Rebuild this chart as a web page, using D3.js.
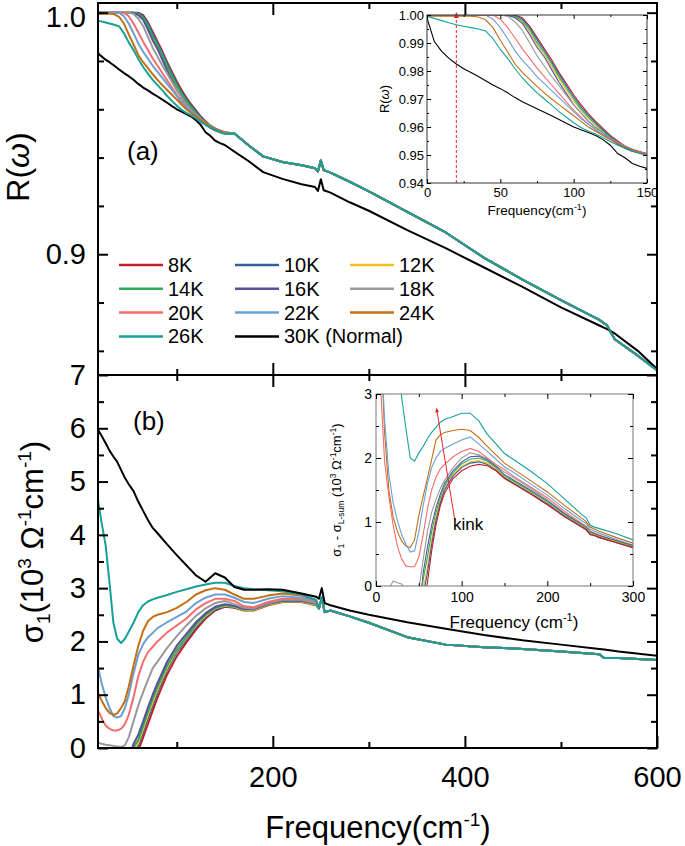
<!DOCTYPE html>
<html><head><meta charset="utf-8">
<script src="https://cdn.jsdelivr.net/npm/d3@7"></script>
<style>body{margin:0;background:#fff}svg{display:block;font-family:"Liberation Sans",Arial,sans-serif}</style>
</head><body><svg id="chart" width="685" height="846"></svg>
<script>
// ---------------- DATA ----------------
const temps = ["8K","10K","12K","14K","16K","18K","20K","22K","24K","26K","30K (Normal)"];
const colors = ["#c41e2a","#2f5f9e","#f0c020","#2eaa5c","#5a4f9a","#999999","#f26d6d","#6a9fd8","#c46f12","#17a099","#000000"];

// Reflectivity R(w): frequency grid (cm-1)
const fR_low = [0,5,10,15,20,25,30,35,40,45,50,55,60,65,70,75,80,85,90,95,100,105,110,115,120,125,130,135,140,145,150];
const fR_tail = [160,175,190,210,230,244,247,250,253,260,280,300,340,380,420,460,500,540,548,556,580,600];
const R_8K_low  = [1,1,1,1,1,1,1,1,1,1,1,1,1.000,0.9990,0.9960,0.9920,0.9880,0.9840,0.9795,0.9755,0.9715,0.9680,0.9648,0.9620,0.9595,0.9570,0.9550,0.9532,0.9520,0.9512,0.9505];
const R_10K_low = [1,1,1,1,1,1,1,1,1,1,1,1,0.9998,0.9985,0.9955,0.9912,0.9873,0.9832,0.9788,0.9748,0.9708,0.9672,0.9642,0.9615,0.9590,0.9566,0.9546,0.9530,0.9518,0.9510,0.9504];
const R_12K_low = [1,1,1,1,1,1,1,1,1,1,1,1,0.9993,0.9975,0.9940,0.9895,0.9858,0.9815,0.9772,0.9732,0.9693,0.9660,0.9630,0.9605,0.9580,0.9558,0.9539,0.9525,0.9515,0.9507,0.9502];
const R_14K_low = [1,1,1,1,1,1,1,1,1,1,1,1,0.9995,0.9980,0.9947,0.9902,0.9866,0.9825,0.9780,0.9740,0.9700,0.9665,0.9635,0.9610,0.9585,0.9561,0.9541,0.9526,0.9516,0.9508,0.9503];
const R_16K_low = [1,1,1,1,1,1,1,1,1,1,1,0.9998,0.9990,0.9970,0.9930,0.9885,0.9850,0.9805,0.9760,0.9720,0.9680,0.9650,0.9620,0.9598,0.9578,0.9557,0.9538,0.9523,0.9513,0.9506,0.9501];
const R_18K_low = [1,1,1,1,1,1,1,1,1,1,1,0.9995,0.9975,0.9945,0.9900,0.9855,0.9818,0.9780,0.9748,0.9713,0.9680,0.9650,0.9620,0.9597,0.9578,0.9560,0.9545,0.9532,0.9520,0.9510,0.9502];
const R_20K_low = [1,1,1,1,1,1,1,1,1,1,0.9985,0.9955,0.9918,0.9880,0.9845,0.9810,0.9780,0.9750,0.9720,0.9690,0.9660,0.9635,0.9610,0.9590,0.9570,0.9555,0.9542,0.9530,0.9520,0.9510,0.9503];
const R_22K_low = [1,1,1,1,1,1,1,1,1,0.9985,0.9955,0.9915,0.9872,0.9838,0.9810,0.9780,0.9755,0.9730,0.9705,0.9680,0.9655,0.9630,0.9610,0.9590,0.9572,0.9557,0.9543,0.9532,0.9520,0.9510,0.9502];
const R_24K_low = [0.9996,0.9996,0.9996,0.9996,0.9996,0.9996,0.9996,0.9993,0.9983,0.9955,0.9910,0.9868,0.9825,0.9795,0.9770,0.9745,0.9722,0.9700,0.9680,0.9660,0.9640,0.9620,0.9600,0.9585,0.9570,0.9555,0.9542,0.9530,0.9520,0.9510,0.9500];
const R_26K_low = [0.9995,0.9988,0.9980,0.9972,0.9965,0.9960,0.9955,0.9950,0.9943,0.9915,0.9877,0.9845,0.9808,0.9775,0.9748,0.9722,0.9700,0.9678,0.9655,0.9635,0.9615,0.9598,0.9585,0.9575,0.9562,0.9548,0.9535,0.9525,0.9515,0.9505,0.9498];
const R_30K_low = [0.9990,0.9905,0.9870,0.9845,0.9825,0.9808,0.9795,0.9780,0.9765,0.9750,0.9737,0.9722,0.9705,0.9690,0.9678,0.9665,0.9653,0.9640,0.9627,0.9613,0.9600,0.9590,0.9580,0.9570,0.9555,0.9535,0.9505,0.9490,0.9470,0.9460,0.9452];
const R_SC_tail  = [0.9500,0.9450,0.9405,0.9382,0.9368,0.9356,0.9342,0.9388,0.9348,0.9338,0.9300,0.9260,0.9175,0.9090,0.8985,0.8895,0.8810,0.8728,0.8705,0.8648,0.8580,0.8520];
const R_30K_tail = [0.9425,0.9385,0.9340,0.9312,0.9290,0.9278,0.9262,0.9310,0.9265,0.9255,0.9215,0.9180,0.9100,0.9025,0.8945,0.8865,0.8780,0.8705,0.8690,0.8672,0.8600,0.8525];

// Optical conductivity sigma1 (10^3 Ohm^-1 cm^-1)
const fS_low = [18,22,26,30,34,38,42,46,50,55,60,65,70,75,80,90,100,110,120,130,140,150,160,170,180,195,210,230,245];
const fS_tail = [248,251,254,260,280,300,340,380,420,460,500,540,545,560,600];
const S_8K_low  = [-0.2,-0.2,-0.2,-0.2,-0.2,-0.2,-0.2,-0.2,-0.2,-0.15,-0.05,0.2,0.45,0.7,0.95,1.38,1.72,1.98,2.22,2.43,2.58,2.65,2.63,2.58,2.58,2.68,2.74,2.74,2.68];
const S_10K_low = [-0.2,-0.2,-0.2,-0.2,-0.2,-0.2,-0.2,-0.2,-0.2,-0.1,0.05,0.3,0.56,0.8,1.05,1.47,1.8,2.03,2.27,2.46,2.6,2.66,2.64,2.59,2.59,2.69,2.75,2.75,2.69];
const S_12K_low = [-0.2,-0.2,-0.2,-0.2,-0.2,-0.2,-0.2,-0.2,-0.2,-0.05,0.1,0.36,0.62,0.86,1.1,1.51,1.83,2.06,2.3,2.48,2.62,2.67,2.65,2.59,2.59,2.69,2.75,2.75,2.69];
const S_14K_low = [-0.2,-0.2,-0.2,-0.2,-0.2,-0.2,-0.2,-0.2,-0.2,0.02,0.15,0.42,0.68,0.92,1.15,1.55,1.85,2.08,2.32,2.5,2.63,2.68,2.66,2.6,2.6,2.7,2.76,2.76,2.7];
const S_16K_low = [-0.2,-0.2,-0.2,-0.2,-0.2,-0.2,-0.2,-0.2,-0.2,0.08,0.25,0.5,0.76,1.0,1.22,1.62,1.92,2.14,2.36,2.53,2.65,2.7,2.67,2.61,2.61,2.71,2.77,2.77,2.71];
const S_18K_low = [0.1,0.08,0.06,0.05,0.04,0.03,0.02,0.05,0.2,0.5,0.8,1.05,1.28,1.5,1.62,1.88,2.1,2.3,2.48,2.62,2.72,2.76,2.7,2.63,2.62,2.72,2.78,2.78,2.72];
const S_20K_low = [0.71,0.55,0.42,0.36,0.33,0.33,0.36,0.45,0.62,0.95,1.35,1.62,1.8,1.9,2.0,2.17,2.3,2.43,2.6,2.72,2.8,2.8,2.76,2.66,2.64,2.74,2.8,2.8,2.74];
const S_22K_low = [1.52,1.2,0.95,0.75,0.6,0.57,0.6,0.75,1.0,1.4,1.75,1.95,2.08,2.16,2.25,2.36,2.46,2.56,2.72,2.82,2.88,2.88,2.82,2.74,2.72,2.8,2.85,2.82,2.76];
const S_24K_low = [1.03,0.88,0.75,0.66,0.62,0.65,0.75,0.88,1.15,1.55,1.92,2.2,2.38,2.46,2.5,2.55,2.63,2.74,2.88,2.96,3.0,2.97,2.88,2.8,2.8,2.86,2.9,2.86,2.78];
const S_26K_low = [4.65,4.2,3.8,3.1,2.35,2.05,1.97,2.05,2.18,2.35,2.55,2.68,2.75,2.79,2.82,2.87,2.93,2.98,3.03,3.07,3.1,3.1,3.04,3.0,2.98,2.96,2.94,2.88,2.78];
const S_30K_low = [5.97,5.85,5.72,5.58,5.47,5.37,5.22,5.07,4.95,4.82,4.62,4.45,4.28,4.13,4.03,3.82,3.62,3.43,3.24,3.12,3.28,3.2,3.02,2.97,2.97,2.98,2.97,2.9,2.84];
const S_SC_tail  = [2.62,2.82,2.55,2.58,2.47,2.35,2.08,1.94,1.89,1.86,1.81,1.76,1.69,1.69,1.65];
const S_30K_tail = [2.80,3.00,2.72,2.68,2.58,2.50,2.36,2.24,2.12,2.02,1.94,1.86,1.85,1.81,1.73];

// Inset (b): sigma1 - sigma_L-sum
const fB = [0,5,10,15,20,25,30,35,40,45,50,55,60,65,70,75,80,90,100,110,120,130,140,150,160,180,200,220,240,245,250,255,260,280,300];
const B_8K  = [-0.5,-0.5,-0.5,-0.5,-0.5,-0.5,-0.5,-0.5,-0.5,-0.5,-0.5,-0.3,0.05,0.55,0.95,1.25,1.45,1.68,1.8,1.87,1.9,1.88,1.8,1.68,1.6,1.44,1.27,1.08,0.92,0.88,0.8,0.79,0.76,0.68,0.6];
const B_10K = [-0.5,-0.5,-0.5,-0.5,-0.5,-0.5,-0.5,-0.5,-0.5,-0.5,-0.5,-0.15,0.2,0.65,1.02,1.3,1.5,1.72,1.85,1.92,1.94,1.9,1.81,1.69,1.61,1.45,1.28,1.09,0.93,0.89,0.81,0.79,0.76,0.68,0.6];
const B_12K = [-0.5,-0.5,-0.5,-0.5,-0.5,-0.5,-0.5,-0.5,-0.5,-0.5,-0.5,-0.05,0.3,0.72,1.08,1.33,1.52,1.74,1.87,1.94,1.96,1.92,1.83,1.7,1.62,1.46,1.29,1.1,0.94,0.9,0.82,0.8,0.77,0.69,0.61];
const B_14K = [-0.5,-0.5,-0.5,-0.5,-0.5,-0.5,-0.5,-0.5,-0.5,-0.5,-0.5,0.1,0.45,0.85,1.15,1.38,1.56,1.77,1.91,1.98,2.0,1.95,1.85,1.72,1.64,1.48,1.31,1.11,0.95,0.91,0.83,0.81,0.78,0.7,0.62];
const B_16K = [-0.5,-0.5,-0.5,-0.5,-0.5,-0.5,-0.5,-0.5,-0.5,-0.5,-0.5,0.2,0.6,0.95,1.22,1.43,1.6,1.8,1.94,2.02,2.03,1.97,1.87,1.74,1.66,1.5,1.33,1.13,0.96,0.92,0.84,0.82,0.79,0.71,0.63];
const B_18K = [-0.3,-0.3,-0.2,-0.05,0.08,0.05,0.03,-0.1,-0.2,-0.2,-0.05,0.4,0.85,1.15,1.35,1.52,1.65,1.85,2.0,2.08,2.05,1.98,1.88,1.78,1.7,1.53,1.35,1.14,0.96,0.92,0.84,0.82,0.78,0.7,0.61];
const B_20K = [5.5,3.2,1.95,1.4,0.95,0.62,0.42,0.31,0.3,0.3,0.45,0.8,1.2,1.5,1.7,1.83,1.9,2.02,2.1,2.15,2.1,2.0,1.9,1.82,1.72,1.55,1.38,1.17,0.98,0.94,0.86,0.83,0.8,0.71,0.62];
const B_22K = [5.0,4.0,2.6,1.75,1.3,1.02,0.8,0.65,0.53,0.55,0.85,1.25,1.6,1.85,2.0,2.1,2.15,2.22,2.28,2.33,2.22,2.1,1.98,1.86,1.78,1.6,1.42,1.21,1.02,0.98,0.89,0.86,0.83,0.73,0.64];
const B_24K = [5.0,4.0,2.4,1.5,1.08,0.85,0.7,0.62,0.6,0.72,1.1,1.4,1.68,1.98,2.28,2.36,2.4,2.43,2.45,2.43,2.32,2.18,2.05,1.92,1.83,1.65,1.47,1.26,1.06,1.01,0.92,0.89,0.86,0.76,0.67];
const B_26K = [6.0,5.8,5.5,5.0,4.5,3.7,2.95,2.45,2.0,1.95,2.08,2.18,2.3,2.4,2.48,2.56,2.6,2.65,2.7,2.7,2.58,2.37,2.22,2.07,1.98,1.8,1.6,1.36,1.12,1.07,0.95,0.92,0.9,0.82,0.72];

// ---------------- ASSEMBLY ----------------
const RlowList = [R_8K_low,R_10K_low,R_12K_low,R_14K_low,R_16K_low,R_18K_low,R_20K_low,R_22K_low,R_24K_low,R_26K_low,R_30K_low];
const SlowList = [S_8K_low,S_10K_low,S_12K_low,S_14K_low,S_16K_low,S_18K_low,S_20K_low,S_22K_low,S_24K_low,S_26K_low,S_30K_low];
const BList = [B_8K,B_10K,B_12K,B_14K,B_16K,B_18K,B_20K,B_22K,B_24K,B_26K];
const fR = fR_low.concat(fR_tail), fS = fS_low.concat(fS_tail);
const Rseries = RlowList.map((lo,i)=>{const v=lo.concat(i<10?R_SC_tail:R_30K_tail);return fR.map((f,j)=>[f,v[j]]);});
const Sseries = SlowList.map((lo,i)=>{const v=lo.concat(i<10?S_SC_tail:S_30K_tail);return fS.map((f,j)=>[f,v[j]]);});
const Bseries = BList.map(v=>fB.map((f,j)=>[f,v[j]]));

// ---------------- DRAW ----------------
const svg = d3.select("#chart");
const FONT = '"Liberation Sans",Arial,sans-serif';
const L=98, R=657, T=3, M=375, B=748;
const x = d3.scaleLinear().domain([18,600]).range([L,R]);
const yR = d3.scaleLinear().domain([0.85,1.004]).range([M,T]);
const yS = d3.scaleLinear().domain([0,7]).range([B,M]);
const xIA = d3.scaleLinear().domain([0,150]).range([427,647]);
const yIA = d3.scaleLinear().domain([0.94,1.0]).range([183,15]);
const xIB = d3.scaleLinear().domain([0,300]).range([376,633]);
const yIB = d3.scaleLinear().domain([0,3]).range([586,394]);

const defs = svg.append("defs");
function clip(id,x0,y0,w,h){defs.append("clipPath").attr("id",id).append("rect").attr("x",x0).attr("y",y0).attr("width",w).attr("height",h);}
clip("cTop",L,T,R-L,M-T); clip("cBot",L,M,R-L,B-M);
clip("cIA",427,15,220,168); clip("cIB",376,394,257,192);
defs.append("marker").attr("id","arr").attr("viewBox","0 0 10 10").attr("refX",5).attr("refY",5)
  .attr("markerWidth",5).attr("markerHeight",6).attr("orient","auto")
  .append("path").attr("d","M0,1 L10,5 L0,9 z").attr("fill","#e8262a");

function axis(fn, scale, tx, ty, vals, size, sw, fmt, fs, pad){
  const a = fn(scale).tickValues(vals).tickSizeInner(size).tickSizeOuter(0).tickPadding(pad||3).tickFormat(fmt||"");
  const g = svg.append("g").attr("transform",`translate(${tx},${ty})`).call(a);
  g.attr("font-family",FONT).attr("font-size",fs||10);
  g.select(".domain").remove();
  g.selectAll(".tick line").attr("stroke","#000").attr("stroke-width",sw);
  g.selectAll(".tick text").attr("fill","#000");
  return g;
}

// main curves
const lineR = d3.line().x(d=>x(d[0])).y(d=>yR(d[1]));
const lineS = d3.line().x(d=>x(d[0])).y(d=>yS(d[1]));
const gTop = svg.append("g").attr("clip-path","url(#cTop)");
const gBot = svg.append("g").attr("clip-path","url(#cBot)");
const order = [0,1,2,3,4,5,6,7,8,10,9];
order.forEach(i=>{
  gTop.append("path").datum(Rseries[i]).attr("d",lineR).attr("fill","none").attr("stroke",colors[i]).attr("stroke-width",2).attr("stroke-linejoin","round");
});
[0,1,2,3,4,5,6,7,8,9,10].forEach(i=>{
  gBot.append("path").datum(Sseries[i]).attr("d",lineS).attr("fill","none").attr("stroke",colors[i]).attr("stroke-width",2).attr("stroke-linejoin","round");
});

// frame
svg.append("rect").attr("x",L).attr("y",T).attr("width",R-L).attr("height",B-T).attr("fill","none").attr("stroke","#000").attr("stroke-width",2);
svg.append("line").attr("x1",L).attr("x2",R).attr("y1",M).attr("y2",M).attr("stroke","#000").attr("stroke-width",2);

// main ticks
const xMaj=[200,400,600], xMin=[100,300,500];
axis(d3.axisBottom,x,0,B,xMaj,-12,2,d=>d,29,18);
axis(d3.axisBottom,x,0,B,xMin,-6,2);
axis(d3.axisTop,x,0,T,[200,400],-12,2); axis(d3.axisTop,x,0,T,xMin,-6,2);
axis(d3.axisBottom,x,0,M,[200,400],-12,2); axis(d3.axisBottom,x,0,M,xMin,-6,2);
axis(d3.axisTop,x,0,M,[200,400],-12,2); axis(d3.axisTop,x,0,M,xMin,-6,2);
const rMaj=[0.9,1.0], rMin=[0.86,0.88,0.92,0.94,0.96,0.98];
const gRL = axis(d3.axisLeft,yR,L,0,rMaj,-10,2,d3.format(".1f"),29,12);
gRL.selectAll(".tick text").filter(d=>d===1.0).attr("dy","0.46em");
axis(d3.axisLeft,yR,L,0,rMin,-6,2);
axis(d3.axisRight,yR,R,0,rMaj,-10,2); axis(d3.axisRight,yR,R,0,rMin,-6,2);
const sMaj=[0,1,2,3,4,5,6,7], sMin=[0.5,1.5,2.5,3.5,4.5,5.5,6.5];
axis(d3.axisLeft,yS,L,0,sMaj,-10,2,d=>d,29,12);
axis(d3.axisLeft,yS,L,0,sMin,-6,2);
axis(d3.axisRight,yS,R,0,sMaj,-10,2); axis(d3.axisRight,yS,R,0,sMin,-6,2);

// axis titles
const xt = svg.append("text").attr("x",378).attr("y",838).attr("text-anchor","middle").attr("font-size",31).attr("font-family",FONT);
xt.append("tspan").text("Frequency(cm");
xt.append("tspan").attr("dy",-12).attr("font-size",19).text("-1");
xt.append("tspan").attr("dy",12).attr("font-size",31).text(")");
const rt = svg.append("text").attr("transform","translate(29,167) rotate(-90)").attr("text-anchor","middle").attr("font-size",32).attr("font-family",FONT);
rt.append("tspan").text("R(");
rt.append("tspan").attr("font-style","italic").text("ω");
rt.append("tspan").text(")");
const st = svg.append("text").attr("transform","translate(43,542) rotate(-90)").attr("text-anchor","middle").attr("font-size",31).attr("font-family",FONT);
st.append("tspan").text("σ");
st.append("tspan").attr("dy",7).attr("font-size",19).text("1");
st.append("tspan").attr("dy",-7).attr("font-size",31).text("(10");
st.append("tspan").attr("dy",-12).attr("font-size",19).text("3");
st.append("tspan").attr("dy",12).attr("font-size",31).text(" Ω");
st.append("tspan").attr("dy",-12).attr("font-size",19).text("-1");
st.append("tspan").attr("dy",12).attr("font-size",31).text("cm");
st.append("tspan").attr("dy",-12).attr("font-size",19).text("-1");
st.append("tspan").attr("dy",12).attr("font-size",31).text(")");

svg.append("text").attr("x",127).attr("y",160).attr("font-size",26).attr("font-family",FONT).text("(a)");
svg.append("text").attr("x",133).attr("y",430).attr("font-size",26).attr("font-family",FONT).text("(b)");

// legend
const legX=[119,235,350], legY0=265, legDY=23.8;
temps.forEach((t,i)=>{
  const c=i%3, r=Math.floor(i/3), lx=legX[c], ly=legY0+r*legDY;
  svg.append("line").attr("x1",lx).attr("x2",lx+44).attr("y1",ly).attr("y2",ly).attr("stroke",colors[i]).attr("stroke-width",2.5);
  svg.append("text").attr("x",lx+49).attr("y",ly+7).attr("font-size",20).attr("font-family",FONT).text(t);
});

// ---------- inset (a) ----------
svg.append("rect").attr("x",427).attr("y",15).attr("width",220).attr("height",168).attr("fill","#fff");
const lineIA = d3.line().x(d=>xIA(d[0])).y(d=>yIA(d[1]));
const gIA = svg.append("g").attr("clip-path","url(#cIA)");
order.forEach(i=>{
  gIA.append("path").datum(Rseries[i]).attr("d",lineIA).attr("fill","none").attr("stroke",colors[i]).attr("stroke-width",1.1);
});
svg.append("line").attr("x1",xIA(20)).attr("x2",xIA(20)).attr("y1",yIA(0.94)).attr("y2",yIA(1.0)).attr("stroke","#e8262a").attr("stroke-width",1).attr("stroke-dasharray","3,2");
svg.append("path").attr("d",`M${xIA(20)-2.5},${yIA(1.0)+3} L${xIA(20)},${yIA(1.0)-3} L${xIA(20)+2.5},${yIA(1.0)+3} z`).attr("fill","#e8262a");
svg.append("rect").attr("x",427).attr("y",15).attr("width",220).attr("height",168).attr("fill","none").attr("stroke","#333").attr("stroke-width",1);
const iaxMaj=[0,50,100,150], iaxMin=[25,75,125];
const iayMaj=[0.94,0.95,0.96,0.97,0.98,0.99,1.0], iayMin=[0.945,0.955,0.965,0.975,0.985,0.995];
axis(d3.axisBottom,xIA,0,183,iaxMaj,-4,1,d=>d,13,5); axis(d3.axisBottom,xIA,0,183,iaxMin,-2,1);
axis(d3.axisTop,xIA,0,15,iaxMaj,-4,1); axis(d3.axisTop,xIA,0,15,iaxMin,-2,1);
axis(d3.axisLeft,yIA,427,0,iayMaj,-4,1,d3.format(".2f"),13,3); axis(d3.axisLeft,yIA,427,0,iayMin,-2,1);
axis(d3.axisRight,yIA,647,0,iayMaj,-4,1); axis(d3.axisRight,yIA,647,0,iayMin,-2,1);
const iat = svg.append("text").attr("x",537).attr("y",215).attr("text-anchor","middle").attr("font-size",13.5).attr("font-family",FONT);
iat.append("tspan").text("Frequency(cm"); iat.append("tspan").attr("dy",-5).attr("font-size",9).text("-1"); iat.append("tspan").attr("dy",5).attr("font-size",13.5).text(")");
const iar = svg.append("text").attr("transform","translate(389,99) rotate(-90)").attr("text-anchor","middle").attr("font-size",13).attr("font-family",FONT);
iar.append("tspan").text("R("); iar.append("tspan").attr("font-style","italic").text("ω"); iar.append("tspan").text(")");

// ---------- inset (b) ----------
svg.append("rect").attr("x",376).attr("y",394).attr("width",257).attr("height",192).attr("fill","#fff");
const lineIB = d3.line().x(d=>xIB(d[0])).y(d=>yIB(d[1]));
const gIB = svg.append("g").attr("clip-path","url(#cIB)");
[9,8,7,6,5,4,3,2,1,0].forEach(i=>{
  gIB.append("path").datum(Bseries[i]).attr("d",lineIB).attr("fill","none").attr("stroke",colors[i]).attr("stroke-width",1.1);
});
svg.append("rect").attr("x",376).attr("y",394).attr("width",257).attr("height",192).attr("fill","none").attr("stroke","#777").attr("stroke-width",1);
const ibxMaj=[0,100,200,300], ibxMin=[50,150,250], ibyMaj=[0,1,2,3], ibyMin=[0.5,1.5,2.5];
axis(d3.axisBottom,xIB,0,586,ibxMaj,-5,1,d=>d,14,6); axis(d3.axisBottom,xIB,0,586,ibxMin,-3,1);
axis(d3.axisTop,xIB,0,394,ibxMaj,-5,1); axis(d3.axisTop,xIB,0,394,ibxMin,-3,1);
axis(d3.axisLeft,yIB,376,0,ibyMaj,-5,1,d=>d,14,4); axis(d3.axisLeft,yIB,376,0,ibyMin,-3,1);
axis(d3.axisRight,yIB,633,0,ibyMaj,-5,1); axis(d3.axisRight,yIB,633,0,ibyMin,-3,1);
const ibt = svg.append("text").attr("x",514).attr("y",628).attr("text-anchor","middle").attr("font-size",17).attr("font-family",FONT);
ibt.append("tspan").text("Frequency (cm"); ibt.append("tspan").attr("dy",-7).attr("font-size",11).text("-1"); ibt.append("tspan").attr("dy",7).attr("font-size",17).text(")");
const iby = svg.append("text").attr("transform","translate(341,490) rotate(-90)").attr("text-anchor","middle").attr("font-size",13).attr("font-family",FONT);
iby.append("tspan").text("σ"); iby.append("tspan").attr("dy",3).attr("font-size",8.5).text("1");
iby.append("tspan").attr("dy",-3).attr("font-size",13).text(" - σ"); iby.append("tspan").attr("dy",3).attr("font-size",8.5).text("L-sum");
iby.append("tspan").attr("dy",-3).attr("font-size",13).text("  (10"); iby.append("tspan").attr("dy",-5).attr("font-size",8.5).text("3");
iby.append("tspan").attr("dy",5).attr("font-size",13).text(" Ω"); iby.append("tspan").attr("dy",-5).attr("font-size",8.5).text("-1");
iby.append("tspan").attr("dy",5).attr("font-size",13).text("cm"); iby.append("tspan").attr("dy",-5).attr("font-size",8.5).text("-1");
iby.append("tspan").attr("dy",5).attr("font-size",13).text(")");
// kink annotation
svg.append("line").attr("x1",xIB(92)).attr("y1",yIB(1.03)).attr("x2",xIB(71)).attr("y2",yIB(2.75))
  .attr("stroke","#e8262a").attr("stroke-width",1).attr("marker-end","url(#arr)");
svg.append("text").attr("x",xIB(90)).attr("y",yIB(0.88)).attr("font-size",17).attr("font-family",FONT).text("kink");
</script></body></html>
